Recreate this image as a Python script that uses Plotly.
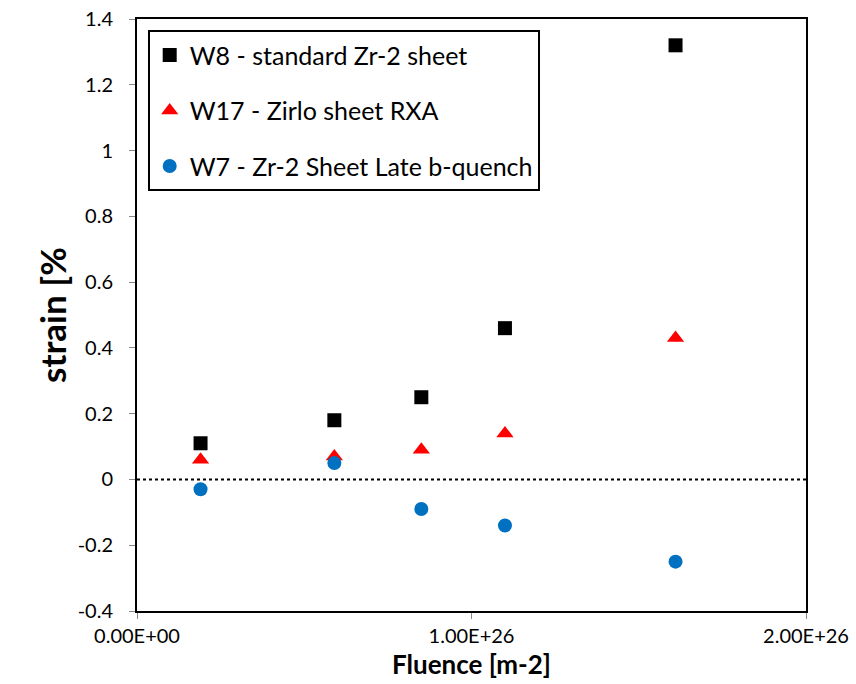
import plotly.graph_objects as go

fluence = [0.19e26, 0.59e26, 0.85e26, 1.10e26, 1.61e26]
w8_strain = [0.11, 0.18, 0.25, 0.46, 1.32]
w17_strain = [0.06, 0.07, 0.09, 0.14, 0.43]
w7_strain = [-0.03, 0.05, -0.09, -0.14, -0.25]

names = ["W8 - standard Zr-2 sheet", "W17 - Zirlo sheet RXA", "W7 - Zr-2 Sheet Late b-quench"]
x_ticks = [0, 1e26, 2e26]
x_tick_labels = ["0.00E+00", "1.00E+26", "2.00E+26"]
y_ticks = [-0.4, -0.2, 0, 0.2, 0.4, 0.6, 0.8, 1, 1.2, 1.4]
y_tick_labels = ["-0.4", "-0.2", "0", "0.2", "0.4", "0.6", "0.8", "1", "1.2", "1.4"]

FONT = "Lato, Open Sans, sans-serif"

fig = go.Figure()
fig.add_trace(go.Scatter(x=fluence, y=w8_strain, mode="markers", name=names[0], legendgroup="a",
                         marker=dict(symbol="square", size=14, color="black")))
fig.add_trace(go.Scatter(x=fluence, y=w17_strain, mode="markers", name=names[1], legendgroup="b",
                         marker=dict(symbol="triangle-up", size=15, color="#ff0000")))
fig.add_trace(go.Scatter(x=fluence, y=w7_strain, mode="markers", name=names[2], legendgroup="c",
                         marker=dict(symbol="circle", size=14, color="#0070c0")))

fig.add_shape(type="line", xref="paper", x0=0, x1=1, yref="y", y0=0, y1=0,
              line=dict(color="black", width=2, dash="dot"), layer="below")

fig.update_layout(
    width=856, height=684,
    margin=dict(l=137, r=50, t=19, b=73, autoexpand=False),
    paper_bgcolor="white", plot_bgcolor="white",
    font=dict(family=FONT, color="black"),
    showlegend=True,
    legend=dict(x=0.016, y=0.981, xanchor="left", yanchor="top",
                bordercolor="black", borderwidth=2, bgcolor="white",
                font=dict(size=25, family=FONT, color="black"),
                tracegroupgap=20, traceorder="grouped"),
    xaxis=dict(range=[0, 2e26], tickvals=x_ticks, ticktext=x_tick_labels,
               automargin=False, ticklabeloverflow="allow",
               showgrid=False, zeroline=False, showline=True, linecolor="black", linewidth=2,
               mirror=True, ticks="outside", ticklen=6, tickcolor="#888888",
               tickfont=dict(size=20, family=FONT, color="black"),
               title=dict(text="Fluence [m-2]", font=dict(size=26, family=FONT, weight="bold"), standoff=10)),
    yaxis=dict(range=[-0.4, 1.4], tickvals=y_ticks, ticktext=y_tick_labels,
               automargin=False, ticklabeloverflow="allow",
               showgrid=False, zeroline=False, showline=True, linecolor="black", linewidth=2,
               mirror=True, ticks="outside", ticklen=6, tickcolor="#888888", ticklabelstandoff=12,
               tickfont=dict(size=20, family=FONT, color="black"),
               title=dict(text="strain [%", font=dict(size=35, family=FONT, weight="bold"), standoff=0)),
)

fig.write_html("out.html", config={"displayModeBar": False},
               post_script="document.body.style.margin='0';")
